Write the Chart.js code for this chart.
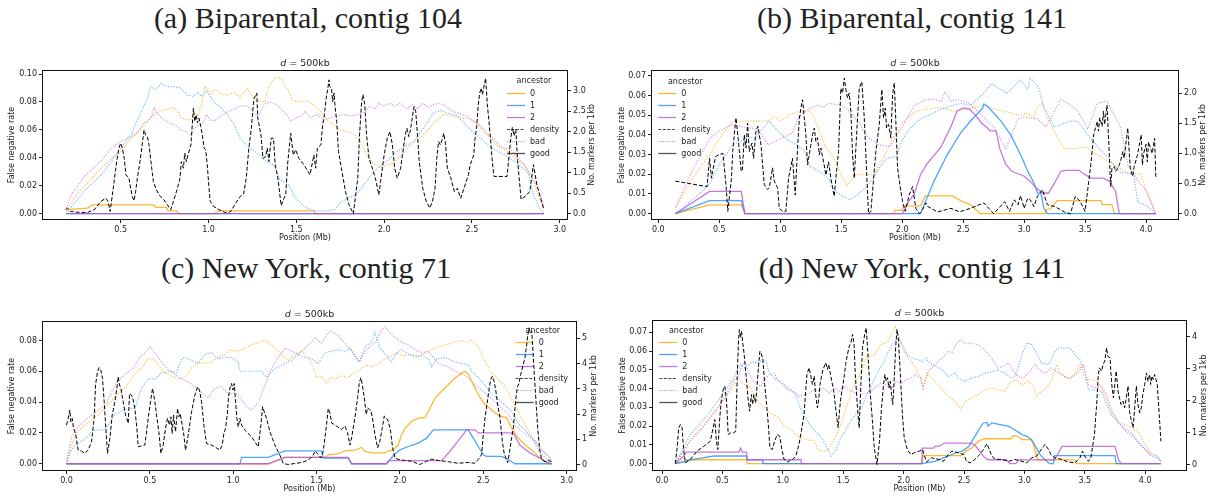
<!DOCTYPE html>
<html>
<head>
<meta charset="utf-8">
<script src="https://cdn.jsdelivr.net/npm/chart.js@4.4.1/dist/chart.umd.min.js"></script>
<style>
  body { margin: 0; width: 1211px; height: 500px; background: #fff; position: relative; overflow: hidden; }
  .cap { position: absolute; font-family: "Liberation Serif", serif; font-size: 30px; line-height: 30px;
         color: #222; white-space: nowrap; transform: translateX(-50%); }
  canvas { position: absolute; }
</style>
</head>
<body>
<div class="cap" style="left:308px;top:3px">(a) Biparental, contig 104</div>
<div class="cap" style="left:912px;top:3px">(b) Biparental, contig 141</div>
<div class="cap" style="left:306px;top:253px">(c) New York, contig 71</div>
<div class="cap" style="left:912px;top:253px">(d) New York, contig 141</div>
<canvas id="pa"></canvas>
<canvas id="pb"></canvas>
<canvas id="pc"></canvas>
<canvas id="pd"></canvas>
<script>
// ---- (a) Biparental, contig 104 ----
const A_X_TICKS = [0.5, 1.0, 1.5, 2.0, 2.5, 3.0];
const A_Y_TICKS = [0, 0.02, 0.04, 0.06, 0.08, 0.10];
const A_D_TICKS = [0, 0.5, 1.0, 1.5, 2.0, 2.5, 3.0];
const A_BAD_0 = [[0.19,0.002],[0.25,0.014],[0.31,0.022],[0.39,0.033],[0.46,0.041],[0.5,0.044],[0.56,0.054],[0.6,0.058],[0.63,0.063],[0.66,0.067],[0.69,0.071],[0.73,0.074],[0.77,0.075],[0.8,0.076],[0.83,0.073],[0.84,0.069],[0.88,0.067],[0.91,0.068],[0.92,0.072],[0.94,0.070],[0.96,0.078],[0.98,0.091],[1.01,0.086],[1.04,0.089],[1.07,0.086],[1.11,0.085],[1.15,0.087],[1.18,0.083],[1.22,0.090],[1.25,0.084],[1.28,0.081],[1.32,0.080],[1.34,0.090],[1.37,0.096],[1.39,0.098],[1.42,0.096],[1.44,0.091],[1.46,0.087],[1.48,0.081],[1.51,0.080],[1.56,0.081],[1.6,0.078],[1.64,0.073],[1.68,0.067],[1.72,0.063],[1.75,0.060],[1.79,0.059],[1.83,0.057],[1.87,0.051],[1.9,0.042],[1.94,0.036],[1.98,0.033],[2.02,0.035],[2.06,0.037],[2.09,0.041],[2.13,0.046],[2.17,0.051],[2.21,0.055],[2.25,0.060],[2.28,0.065],[2.32,0.069],[2.34,0.071],[2.38,0.070],[2.42,0.070],[2.46,0.068],[2.49,0.068],[2.53,0.065],[2.57,0.058],[2.61,0.054],[2.65,0.048],[2.7,0.045],[2.75,0.040],[2.8,0.034],[2.85,0.024],[2.88,0.012],[2.91,0.002]];
const A_BAD_1 = [[0.19,0.0],[0.29,0.016],[0.39,0.028],[0.49,0.045],[0.56,0.057],[0.61,0.071],[0.65,0.082],[0.67,0.091],[0.7,0.089],[0.73,0.093],[0.77,0.091],[0.8,0.091],[0.84,0.090],[0.88,0.085],[0.91,0.084],[0.94,0.087],[0.96,0.084],[0.99,0.088],[1.03,0.080],[1.07,0.076],[1.11,0.071],[1.15,0.063],[1.18,0.054],[1.22,0.048],[1.26,0.045],[1.3,0.041],[1.34,0.036],[1.37,0.035],[1.41,0.024],[1.43,0.023],[1.45,0.022],[1.47,0.018],[1.49,0.012],[1.53,0.007],[1.56,0.004],[1.61,0.002],[1.68,0.002],[1.72,0.003],[1.75,0.008],[1.79,0.011],[1.83,0.013],[1.87,0.018],[1.9,0.023],[1.94,0.030],[1.98,0.034],[2.02,0.038],[2.06,0.043],[2.09,0.046],[2.13,0.049],[2.17,0.052],[2.21,0.059],[2.25,0.066],[2.28,0.072],[2.32,0.074],[2.36,0.072],[2.4,0.071],[2.44,0.067],[2.47,0.063],[2.51,0.058],[2.55,0.054],[2.59,0.049],[2.63,0.046],[2.7,0.041],[2.76,0.036],[2.82,0.029],[2.85,0.014],[2.88,0.005],[2.91,0.0]];
const A_BAD_2 = [[0.19,0.004],[0.22,0.014],[0.29,0.026],[0.39,0.038],[0.44,0.046],[0.5,0.052],[0.56,0.055],[0.6,0.059],[0.63,0.065],[0.66,0.067],[0.68,0.071],[0.69,0.076],[0.72,0.070],[0.75,0.067],[0.79,0.064],[0.82,0.063],[0.84,0.060],[0.87,0.059],[0.9,0.056],[0.92,0.061],[0.94,0.063],[0.97,0.065],[0.99,0.071],[1.01,0.067],[1.04,0.067],[1.07,0.070],[1.11,0.073],[1.15,0.075],[1.18,0.077],[1.22,0.077],[1.25,0.074],[1.28,0.069],[1.32,0.079],[1.35,0.080],[1.39,0.078],[1.42,0.074],[1.45,0.070],[1.47,0.066],[1.5,0.069],[1.53,0.070],[1.55,0.073],[1.58,0.069],[1.62,0.071],[1.66,0.067],[1.7,0.069],[1.73,0.070],[1.77,0.071],[1.81,0.070],[1.85,0.071],[1.89,0.073],[1.92,0.077],[1.95,0.075],[1.97,0.079],[2.0,0.077],[2.03,0.079],[2.06,0.077],[2.09,0.079],[2.13,0.075],[2.16,0.078],[2.19,0.075],[2.22,0.079],[2.25,0.076],[2.28,0.078],[2.31,0.079],[2.34,0.078],[2.37,0.075],[2.4,0.073],[2.44,0.071],[2.47,0.070],[2.51,0.066],[2.55,0.063],[2.59,0.057],[2.63,0.053],[2.66,0.048],[2.72,0.046],[2.8,0.035],[2.87,0.020],[2.91,0.005]];
const A_GOOD_0 = [[0.19,0.002],[0.2,0.003],[0.31,0.004],[0.34,0.0064],[0.69,0.0064],[0.7,0.0045],[0.76,0.0045],[0.77,0.002],[0.82,0.002],[0.83,0.0],[1.03,0.0],[1.06,0.002],[1.6,0.002],[1.61,0.0],[2.91,0.0]];
const A_GOOD_1 = [[0.19,0],[2.91,0]];
const A_GOOD_2 = [[0.19,0],[2.91,0]];
const A_DENSITY = [[0.187,0.1],[0.196,0.14],[0.215,0.06],[0.25,0.04],[0.31,0.03],[0.35,0.1],[0.386,0.3],[0.415,0.38],[0.428,0.3],[0.44,0.06],[0.46,0.7],[0.477,1.27],[0.49,1.6],[0.5,1.72],[0.51,1.6],[0.52,1.35],[0.53,0.95],[0.547,0.87],[0.557,0.62],[0.566,0.42],[0.576,0.32],[0.585,0.54],[0.595,0.87],[0.61,1.27],[0.62,1.6],[0.633,2.04],[0.642,1.92],[0.652,1.88],[0.66,1.72],[0.67,1.35],[0.686,0.79],[0.7,0.62],[0.718,0.46],[0.747,0.34],[0.766,0.22],[0.785,0.1],[0.8,0.3],[0.823,0.62],[0.838,0.87],[0.845,1.27],[0.857,1.11],[0.865,1.48],[0.874,1.27],[0.883,1.43],[0.9,1.68],[0.908,2.19],[0.914,2.57],[0.922,2.25],[0.93,2.41],[0.937,2.21],[0.946,2.33],[0.956,2.12],[0.965,1.92],[0.975,1.6],[0.984,1.56],[0.993,1.19],[1.003,0.62],[1.01,0.3],[1.03,0.18],[1.06,0.1],[1.09,0.04],[1.11,0.02],[1.127,0.06],[1.155,0.26],[1.18,0.42],[1.2,0.48],[1.215,0.87],[1.23,1.6],[1.244,2.08],[1.255,2.65],[1.26,2.81],[1.275,2.94],[1.28,2.35],[1.29,2.12],[1.3,1.88],[1.31,1.35],[1.325,1.39],[1.335,1.6],[1.344,1.27],[1.357,1.84],[1.37,1.84],[1.38,1.19],[1.395,0.87],[1.414,0.2],[1.43,0.38],[1.44,0.46],[1.45,1.19],[1.468,1.96],[1.483,1.43],[1.496,1.56],[1.515,1.35],[1.544,1.19],[1.578,0.95],[1.6,1.43],[1.61,1.11],[1.62,1.6],[1.64,1.68],[1.65,2.17],[1.66,2.41],[1.67,2.81],[1.68,3.06],[1.686,3.26],[1.69,3.1],[1.7,3.06],[1.707,2.73],[1.715,2.94],[1.72,2.65],[1.73,2.25],[1.74,1.52],[1.76,1.03],[1.78,0.54],[1.8,0.22],[1.825,0.0],[1.85,0.87],[1.86,1.92],[1.872,2.73],[1.88,2.9],[1.89,2.65],[1.9,1.92],[1.914,1.35],[1.933,1.11],[1.95,0.87],[1.97,0.46],[1.98,0.79],[2.0,1.43],[2.018,1.84],[2.033,2.0],[2.047,1.68],[2.06,1.11],[2.075,0.87],[2.094,1.11],[2.11,1.6],[2.12,1.92],[2.13,2.08],[2.14,1.88],[2.15,2.04],[2.16,2.33],[2.17,2.61],[2.18,2.49],[2.19,1.92],[2.2,1.27],[2.22,0.62],[2.24,0.3],[2.26,0.14],[2.275,0.3],[2.29,0.62],[2.3,1.35],[2.31,1.76],[2.32,1.68],[2.33,1.8],[2.34,1.96],[2.35,1.68],[2.36,1.11],[2.38,0.87],[2.4,0.54],[2.417,0.62],[2.436,0.38],[2.455,0.62],[2.48,0.95],[2.49,1.19],[2.51,1.43],[2.518,1.84],[2.527,2.12],[2.536,2.65],[2.544,2.94],[2.553,3.06],[2.56,2.9],[2.57,3.14],[2.578,3.3],[2.588,2.65],[2.597,2.25],[2.607,1.76],[2.616,1.27],[2.626,0.91],[2.7,0.91],[2.72,1.8],[2.73,2.1],[2.74,1.9],[2.75,2.05],[2.76,1.3],[2.78,0.35],[2.81,0.45],[2.83,0.55],[2.85,1.2],[2.87,0.7],[2.89,0.4],[2.91,0.1]];

// ---- (b) Biparental, contig 141 ----
const B_X_TICKS = [0, 0.5, 1.0, 1.5, 2.0, 2.5, 3.0, 3.5, 4.0];
const B_Y_TICKS = [0, 0.01, 0.02, 0.03, 0.04, 0.05, 0.06, 0.07];
const B_D_TICKS = [0, 0.5, 1.0, 1.5, 2.0];
const B_BAD_0 = [[0.14,0.003],[0.28,0.018],[0.42,0.030],[0.5,0.038],[0.58,0.045],[0.62,0.047],[0.75,0.047],[0.9,0.047],[0.95,0.049],[1.0,0.047],[1.07,0.050],[1.16,0.052],[1.24,0.052],[1.27,0.050],[1.32,0.042],[1.37,0.034],[1.42,0.030],[1.47,0.025],[1.51,0.018],[1.55,0.014],[1.6,0.019],[1.65,0.020],[1.78,0.020],[1.81,0.025],[1.86,0.030],[1.92,0.038],[2.0,0.046],[2.11,0.052],[2.19,0.053],[2.32,0.054],[2.42,0.052],[2.51,0.053],[2.6,0.054],[2.67,0.055],[2.75,0.053],[2.84,0.052],[2.95,0.050],[3.03,0.051],[3.08,0.049],[3.11,0.054],[3.15,0.056],[3.19,0.049],[3.27,0.039],[3.33,0.033],[3.42,0.033],[3.5,0.034],[3.57,0.031],[3.68,0.027],[3.78,0.023],[3.85,0.021],[3.96,0.020],[4.01,0.010],[4.05,0.004],[4.08,0.0]];
const B_BAD_1 = [[0.14,0.0],[0.28,0.007],[0.42,0.015],[0.5,0.025],[0.61,0.035],[0.72,0.038],[0.8,0.039],[0.91,0.047],[0.98,0.042],[1.05,0.038],[1.13,0.035],[1.2,0.032],[1.24,0.024],[1.32,0.0215],[1.39,0.018],[1.46,0.011],[1.51,0.009],[1.57,0.007],[1.62,0.009],[1.7,0.013],[1.76,0.018],[1.81,0.023],[1.87,0.028],[1.95,0.029],[2.0,0.0375],[2.06,0.043],[2.11,0.046],[2.15,0.048],[2.32,0.053],[2.48,0.056],[2.56,0.055],[2.67,0.061],[2.73,0.066],[2.86,0.061],[2.97,0.068],[3.03,0.063],[3.05,0.069],[3.12,0.064],[3.16,0.054],[3.25,0.044],[3.38,0.047],[3.44,0.047],[3.52,0.040],[3.63,0.032],[3.71,0.027],[3.79,0.021],[3.9,0.020],[3.93,0.006],[4.01,0.004],[4.08,0.0]];
const B_BAD_2 = [[0.14,0.003],[0.28,0.022],[0.42,0.038],[0.5,0.042],[0.6,0.045],[0.7,0.044],[0.8,0.043],[0.85,0.040],[0.9,0.035],[1.0,0.038],[1.1,0.041],[1.15,0.049],[1.2,0.052],[1.3,0.055],[1.35,0.054],[1.4,0.056],[1.5,0.055],[1.55,0.053],[1.65,0.046],[1.7,0.040],[1.8,0.035],[1.9,0.034],[2.0,0.044],[2.1,0.055],[2.2,0.058],[2.26,0.058],[2.32,0.057],[2.35,0.062],[2.4,0.057],[2.45,0.058],[2.55,0.056],[2.65,0.050],[2.75,0.044],[2.85,0.033],[2.95,0.048],[3.0,0.049],[3.11,0.048],[3.18,0.044],[3.3,0.058],[3.36,0.056],[3.44,0.052],[3.52,0.043],[3.6,0.056],[3.68,0.057],[3.79,0.044],[3.85,0.025],[3.93,0.017],[4.01,0.011],[4.08,0.0]];
const B_GOOD_0 = [[0.14,0],[0.42,0.0045],[0.68,0.0045],[0.71,0],[1.93,0],[1.94,0.0017],[2.0,0.0017],[2.01,0.004],[2.15,0.004],[2.19,0.009],[2.41,0.009],[2.5,0.006],[2.56,0.0046],[2.64,0],[3.17,0],[3.18,0.002],[3.22,0.0025],[3.27,0.0066],[3.63,0.0066],[3.64,0.0046],[3.72,0.0046],[3.74,0],[4.08,0]];
const B_GOOD_1 = [[0.14,0],[0.42,0.0066],[0.68,0.0066],[0.71,0],[2.15,0],[2.26,0.0164],[2.37,0.030],[2.48,0.041],[2.56,0.047],[2.66,0.0536],[2.67,0.0556],[2.7,0.0545],[2.81,0.047],[2.89,0.040],[2.97,0.030],[3.03,0.0215],[3.08,0.0156],[3.11,0.0105],[3.14,0.010],[3.16,0.003],[3.19,0],[4.08,0]];
const B_GOOD_2 = [[0.14,0],[0.42,0.0113],[0.68,0.0113],[0.71,0],[2.0,0],[2.05,0.006],[2.1,0.010],[2.15,0.0198],[2.2,0.025],[2.32,0.034],[2.4,0.0443],[2.45,0.052],[2.5,0.0536],[2.55,0.053],[2.6,0.050],[2.65,0.046],[2.7,0.0435],[2.72,0.042],[2.77,0.042],[2.8,0.033],[2.85,0.025],[2.9,0.0215],[3.0,0.019],[3.05,0.0164],[3.1,0.013],[3.15,0.0105],[3.2,0.0105],[3.25,0.0156],[3.3,0.0215],[3.35,0.022],[3.45,0.022],[3.5,0.0198],[3.55,0.018],[3.65,0.018],[3.7,0.0164],[3.75,0.0113],[3.78,0],[4.08,0]];
const B_DENSITY = [[0.14,0.54],[0.40,0.45],[0.42,0.92],[0.436,0.59],[0.445,0.7],[0.47,0.95],[0.5,0.98],[0.53,1.0],[0.555,0.48],[0.57,0.04],[0.6,0.59],[0.61,1.03],[0.623,1.31],[0.637,1.59],[0.66,1.14],[0.68,0.7],[0.69,0.73],[0.705,1.31],[0.719,1.09],[0.732,1.5],[0.746,1.03],[0.768,1.17],[0.781,0.92],[0.8,1.36],[0.817,1.45],[0.828,1.31],[0.842,1.14],[0.869,0.48],[0.896,0.4],[0.91,0.43],[0.937,0.76],[0.951,0.54],[0.978,0.43],[0.992,0.09],[1.02,0.04],[1.046,0.04],[1.068,0.59],[1.087,0.78],[1.1,0.92],[1.123,0.31],[1.142,1.09],[1.156,1.56],[1.169,1.75],[1.183,1.89],[1.197,1.59],[1.21,1.31],[1.224,0.81],[1.238,0.98],[1.265,1.31],[1.279,1.42],[1.292,1.2],[1.306,1.26],[1.32,0.98],[1.333,1.09],[1.36,0.81],[1.374,0.64],[1.396,0.86],[1.415,0.59],[1.429,0.43],[1.443,0.29],[1.456,0.59],[1.478,1.03],[1.497,2.08],[1.511,2.0],[1.525,2.25],[1.538,2.06],[1.552,1.92],[1.566,2.0],[1.579,1.7],[1.593,0.98],[1.607,0.59],[1.626,1.31],[1.648,2.08],[1.669,2.19],[1.689,1.59],[1.708,0.7],[1.724,0.0],[1.743,0.04],[1.784,1.03],[1.812,1.48],[1.833,2.06],[1.847,1.59],[1.861,1.75],[1.872,1.42],[1.888,1.48],[1.907,1.26],[1.921,1.97],[1.935,2.17],[1.948,1.53],[1.962,0.76],[1.981,0.48],[2.003,0.2],[2.025,0.04],[2.057,0.31],[2.085,0.45],[2.112,0.09],[2.14,0.0],[2.167,0.07],[2.194,0.18],[2.21,0.12],[2.29,0.03],[2.4,0.09],[2.47,0.03],[2.56,0.09],[2.67,0.18],[2.75,0.0],[2.84,0.2],[2.88,0.04],[2.92,0.23],[2.95,0.15],[2.97,0.3],[3.0,0.09],[3.03,0.26],[3.05,0.23],[3.08,0.12],[3.11,0.29],[3.15,0.4],[3.19,0.15],[3.25,0.12],[3.33,0.03],[3.38,0.0],[3.42,0.29],[3.46,0.2],[3.5,0.04],[3.55,0.87],[3.57,1.31],[3.6,1.53],[3.61,1.37],[3.62,1.59],[3.64,1.45],[3.65,1.7],[3.66,1.48],[3.68,1.8],[3.69,1.36],[3.71,0.45],[3.72,0.76],[3.74,0.78],[3.75,0.7],[3.77,0.76],[3.78,0.81],[3.79,0.87],[3.81,1.03],[3.82,0.92],[3.83,1.09],[3.85,1.42],[3.87,0.76],[3.89,0.62],[3.9,0.76],[3.93,0.98],[3.96,1.31],[3.97,0.81],[3.98,1.0],[4.0,1.15],[4.01,0.86],[4.02,1.19],[4.05,1.0],[4.07,1.25],[4.08,0.59]];

// ---- (c) New York, contig 71 ----
const C_X_TICKS = [0, 0.5, 1.0, 1.5, 2.0, 2.5, 3.0];
const C_Y_TICKS = [0, 0.02, 0.04, 0.06, 0.08];
const C_D_TICKS = [0, 1, 2, 3, 4, 5];
const C_BAD_0 = [[0,0],[0.03,0.012],[0.06,0.020],[0.11,0.025],[0.17,0.030],[0.23,0.036],[0.29,0.043],[0.35,0.049],[0.41,0.058],[0.45,0.062],[0.49,0.068],[0.52,0.068],[0.55,0.064],[0.59,0.059],[0.63,0.057],[0.67,0.055],[0.71,0.056],[0.75,0.062],[0.79,0.066],[0.83,0.065],[0.87,0.066],[0.91,0.069],[0.95,0.071],[0.98,0.074],[1.01,0.073],[1.05,0.074],[1.09,0.076],[1.13,0.078],[1.18,0.080],[1.21,0.079],[1.25,0.075],[1.29,0.071],[1.33,0.067],[1.37,0.071],[1.41,0.073],[1.45,0.069],[1.48,0.063],[1.5,0.056],[1.53,0.057],[1.56,0.052],[1.58,0.056],[1.61,0.055],[1.65,0.057],[1.69,0.056],[1.73,0.059],[1.77,0.062],[1.8,0.064],[1.83,0.063],[1.87,0.065],[1.91,0.068],[1.95,0.070],[1.98,0.072],[2.02,0.070],[2.06,0.071],[2.1,0.069],[2.14,0.071],[2.19,0.074],[2.23,0.076],[2.27,0.077],[2.33,0.079],[2.37,0.080],[2.4,0.079],[2.43,0.080],[2.47,0.076],[2.51,0.066],[2.55,0.059],[2.59,0.055],[2.63,0.050],[2.67,0.042],[2.71,0.034],[2.75,0.025],[2.79,0.018],[2.83,0.011],[2.87,0.007],[2.91,0.003]];
const C_BAD_1 = [[0,0],[0.02,0.007],[0.05,0.012],[0.11,0.016],[0.16,0.022],[0.23,0.022],[0.29,0.032],[0.35,0.035],[0.41,0.036],[0.45,0.049],[0.49,0.055],[0.53,0.055],[0.57,0.059],[0.62,0.060],[0.66,0.059],[0.69,0.068],[0.71,0.069],[0.75,0.067],[0.79,0.065],[0.83,0.071],[0.87,0.072],[0.91,0.068],[0.95,0.069],[0.99,0.069],[1.03,0.066],[1.04,0.060],[1.11,0.060],[1.17,0.060],[1.2,0.056],[1.23,0.060],[1.27,0.063],[1.31,0.065],[1.35,0.067],[1.39,0.071],[1.43,0.069],[1.47,0.068],[1.51,0.065],[1.55,0.072],[1.59,0.073],[1.63,0.074],[1.67,0.073],[1.7,0.075],[1.74,0.069],[1.76,0.066],[1.79,0.076],[1.83,0.079],[1.85,0.085],[1.88,0.075],[1.92,0.070],[1.95,0.066],[1.98,0.072],[2.01,0.074],[2.05,0.071],[2.09,0.070],[2.13,0.070],[2.17,0.068],[2.19,0.063],[2.22,0.068],[2.27,0.069],[2.33,0.066],[2.37,0.065],[2.41,0.064],[2.43,0.060],[2.47,0.056],[2.51,0.051],[2.55,0.045],[2.59,0.042],[2.63,0.038],[2.67,0.034],[2.71,0.026],[2.75,0.022],[2.79,0.017],[2.83,0.009],[2.87,0.004],[2.91,0.0015]];
const C_BAD_2 = [[0,0.0015],[0.03,0.017],[0.06,0.023],[0.12,0.029],[0.18,0.034],[0.24,0.039],[0.3,0.053],[0.35,0.058],[0.4,0.062],[0.44,0.069],[0.48,0.073],[0.5,0.076],[0.53,0.072],[0.57,0.066],[0.61,0.061],[0.65,0.058],[0.69,0.055],[0.73,0.053],[0.77,0.050],[0.81,0.046],[0.85,0.043],[0.89,0.049],[0.93,0.050],[0.97,0.045],[1.01,0.046],[1.04,0.043],[1.08,0.037],[1.11,0.035],[1.15,0.040],[1.19,0.051],[1.23,0.062],[1.27,0.069],[1.31,0.075],[1.35,0.073],[1.39,0.071],[1.43,0.075],[1.47,0.079],[1.49,0.082],[1.53,0.078],[1.56,0.084],[1.59,0.086],[1.63,0.083],[1.67,0.078],[1.71,0.073],[1.75,0.066],[1.78,0.071],[1.81,0.075],[1.83,0.077],[1.86,0.080],[1.89,0.087],[1.91,0.089],[1.94,0.085],[1.97,0.082],[2.01,0.079],[2.05,0.077],[2.09,0.074],[2.13,0.072],[2.17,0.073],[2.2,0.069],[2.23,0.065],[2.29,0.063],[2.33,0.060],[2.37,0.058],[2.41,0.056],[2.45,0.051],[2.49,0.048],[2.53,0.044],[2.57,0.040],[2.61,0.036],[2.65,0.032],[2.69,0.025],[2.73,0.021],[2.77,0.018],[2.81,0.015],[2.85,0.009],[2.89,0.005],[2.91,0.0015]];
const C_GOOD_0 = [[0,0],[1.21,0],[1.31,0.0041],[1.55,0.0041],[1.57,0.0058],[1.63,0.0065],[1.67,0.0084],[1.73,0.0088],[1.77,0.0106],[1.79,0.008],[1.83,0.007],[1.91,0.007],[1.93,0.0084],[1.96,0.0089],[1.99,0.0123],[2.01,0.0188],[2.03,0.023],[2.07,0.0275],[2.11,0.0296],[2.15,0.030],[2.18,0.036],[2.21,0.0426],[2.25,0.047],[2.29,0.0512],[2.33,0.0556],[2.37,0.0588],[2.39,0.060],[2.41,0.058],[2.44,0.0512],[2.47,0.0448],[2.51,0.0383],[2.54,0.036],[2.57,0.033],[2.61,0.0307],[2.64,0.030],[2.67,0.023],[2.71,0.0166],[2.75,0.0123],[2.79,0.009],[2.83,0.0048],[2.87,0.0015],[2.91,0]];
const C_GOOD_1 = [[0,0],[1.04,0],[1.05,0.0041],[1.21,0.0041],[1.31,0.0084],[1.53,0.0084],[1.54,0.0037],[1.69,0.0037],[1.71,0],[1.92,0],[1.97,0.0065],[2.0,0.009],[2.05,0.0112],[2.11,0.0134],[2.16,0.0166],[2.2,0.022],[2.41,0.022],[2.44,0.0166],[2.47,0.0112],[2.5,0.0058],[2.52,0.0048],[2.61,0.0048],[2.65,0.0026],[2.69,0],[2.91,0]];
const C_GOOD_2 = [[0,0],[1.21,0],[1.31,0.0041],[1.69,0.0041],[1.71,0],[1.92,0],[1.93,0.002],[2.25,0.002],[2.3,0.008],[2.35,0.015],[2.4,0.022],[2.45,0.022],[2.47,0.020],[2.68,0.020],[2.72,0.012],[2.78,0.007],[2.85,0.003],[2.9,0],[2.91,0]];
const C_DENSITY = [[0,1.56],[0.01,1.83],[0.02,2.16],[0.026,1.69],[0.034,1.83],[0.042,1.43],[0.054,1.23],[0.07,0.57],[0.09,0.53],[0.11,0.44],[0.13,0.57],[0.15,0.9],[0.166,1.83],[0.174,3.15],[0.186,3.68],[0.196,3.84],[0.206,3.74],[0.216,3.41],[0.226,2.49],[0.236,1.43],[0.246,0.44],[0.26,1.03],[0.274,1.96],[0.29,2.49],[0.302,3.02],[0.31,3.48],[0.318,3.15],[0.326,3.02],[0.34,2.49],[0.354,1.96],[0.362,1.83],[0.37,1.63],[0.378,2.82],[0.39,2.75],[0.398,2.62],[0.41,2.22],[0.422,1.43],[0.43,0.7],[0.45,0.74],[0.47,0.77],[0.49,1.83],[0.504,2.49],[0.516,3.02],[0.53,2.49],[0.54,1.96],[0.554,1.3],[0.566,0.44],[0.58,0.77],[0.594,1.43],[0.606,1.83],[0.618,1.56],[0.626,1.89],[0.634,1.23],[0.642,1.96],[0.654,1.3],[0.666,2.22],[0.674,1.89],[0.682,2.02],[0.694,1.56],[0.704,1.16],[0.714,0.57],[0.73,1.16],[0.75,2.09],[0.77,2.75],[0.786,3.08],[0.798,2.95],[0.81,2.49],[0.824,1.56],[0.84,0.83],[0.87,0.77],[0.89,0.7],[0.92,0.57],[0.934,0.77],[0.944,1.23],[0.954,1.43],[0.964,1.96],[0.972,2.69],[0.982,3.08],[0.99,3.21],[0.998,2.95],[1.006,3.21],[1.014,2.49],[1.022,1.83],[1.03,1.49],[1.04,1.83],[1.05,1.56],[1.07,1.36],[1.11,1.1],[1.15,0.7],[1.166,1.56],[1.176,2.29],[1.186,2.09],[1.2,1.83],[1.22,1.3],[1.25,0.77],[1.28,0.37],[1.3,0.04],[1.33,0],[1.37,0.04],[1.41,0.08],[1.45,0.17],[1.48,0.37],[1.49,0.53],[1.51,0.4],[1.526,0.26],[1.54,0.53],[1.55,1.06],[1.56,1.59],[1.57,2.22],[1.58,2.05],[1.59,1.65],[1.62,1.52],[1.65,1.39],[1.67,1.52],[1.686,1.26],[1.7,0.77],[1.71,1.06],[1.73,1.85],[1.746,2.65],[1.756,3.24],[1.766,3.44],[1.774,3.17],[1.786,2.65],[1.798,1.98],[1.806,2.25],[1.816,2.18],[1.826,2.14],[1.838,1.72],[1.85,1.19],[1.866,0.66],[1.88,0.93],[1.894,1.46],[1.906,1.92],[1.918,1.85],[1.93,1.72],[1.944,1.32],[1.956,0.66],[1.97,0.26],[1.99,0.2],[2.03,0.16],[2.07,0.13],[2.12,0.0],[2.16,0.13],[2.19,0.21],[2.23,0.16],[2.29,0.11],[2.35,0.05],[2.41,0.08],[2.45,0.05],[2.47,0.2],[2.49,0.4],[2.5,1.19],[2.51,1.85],[2.526,2.58],[2.536,3.04],[2.544,3.37],[2.554,3.5],[2.564,3.31],[2.574,2.98],[2.586,2.38],[2.6,1.85],[2.614,0.93],[2.626,0.4],[2.636,0.26],[2.646,0.07],[2.658,0.53],[2.67,1.06],[2.68,1.46],[2.69,2.25],[2.698,2.78],[2.706,3.1],[2.714,3.21],[2.722,3.51],[2.73,3.7],[2.74,3.97],[2.75,4.23],[2.758,4.63],[2.766,5.09],[2.774,5.42],[2.782,5.22],[2.79,5.29],[2.798,4.5],[2.806,3.57],[2.816,2.51],[2.826,1.46],[2.838,0.6],[2.85,0.2],[2.87,0.11],[2.89,0.16],[2.91,0.11]];

// ---- (d) New York, contig 141 ----
const D_X_TICKS = [0, 0.5, 1.0, 1.5, 2.0, 2.5, 3.0, 3.5, 4.0];
const D_Y_TICKS = [0, 0.01, 0.02, 0.03, 0.04, 0.05, 0.06, 0.07];
const D_D_TICKS = [0, 1, 2, 3, 4];
const D_BAD_0 = [[0.11,0],[0.18,0.0066],[0.235,0.0128],[0.32,0.019],[0.4,0.025],[0.46,0.0297],[0.51,0.034],[0.57,0.0394],[0.61,0.043],[0.65,0.044],[0.69,0.042],[0.73,0.041],[0.76,0.0368],[0.8,0.0323],[0.84,0.0305],[0.885,0.027],[0.93,0.026],[0.97,0.0243],[1.01,0.020],[1.05,0.019],[1.09,0.0163],[1.15,0.0137],[1.2,0.0128],[1.26,0.0122],[1.29,0.0075],[1.34,0.0066],[1.38,0.0075],[1.42,0.012],[1.47,0.019],[1.51,0.027],[1.55,0.035],[1.59,0.042],[1.65,0.049],[1.7,0.058],[1.76,0.058],[1.81,0.0634],[1.87,0.065],[1.91,0.0705],[1.93,0.073],[1.95,0.070],[1.98,0.0634],[2.02,0.058],[2.06,0.0545],[2.1,0.051],[2.14,0.046],[2.16,0.041],[2.2,0.048],[2.26,0.0439],[2.32,0.0394],[2.37,0.036],[2.43,0.0332],[2.47,0.0288],[2.51,0.0332],[2.56,0.035],[2.62,0.0368],[2.67,0.0394],[2.73,0.0403],[2.78,0.0394],[2.84,0.0385],[2.88,0.043],[2.93,0.0448],[2.98,0.0421],[3.03,0.0439],[3.07,0.0421],[3.1,0.0359],[3.14,0.0385],[3.18,0.0403],[3.22,0.0439],[3.27,0.0528],[3.29,0.049],[3.33,0.0465],[3.38,0.0448],[3.42,0.0483],[3.46,0.0528],[3.5,0.0448],[3.55,0.0448],[3.61,0.0439],[3.65,0.0385],[3.69,0.0323],[3.73,0.026],[3.78,0.0225],[3.83,0.0208],[3.89,0.019],[3.94,0.0172],[4.0,0.0101],[4.05,0.0057],[4.1,0.004],[4.13,0.0012]];
const D_BAD_1 = [[0.11,0],[0.166,0.0075],[0.235,0.0155],[0.32,0.0217],[0.4,0.0279],[0.48,0.035],[0.54,0.0403],[0.6,0.0465],[0.62,0.050],[0.65,0.0528],[0.68,0.051],[0.705,0.052],[0.75,0.0545],[0.79,0.0536],[0.83,0.0554],[0.86,0.0545],[0.885,0.049],[0.93,0.0456],[0.97,0.0439],[1.01,0.0421],[1.065,0.0394],[1.107,0.0368],[1.15,0.0288],[1.19,0.0243],[1.23,0.020],[1.27,0.0172],[1.31,0.0146],[1.355,0.0101],[1.4,0.004],[1.44,0.0075],[1.48,0.0137],[1.52,0.018],[1.56,0.0225],[1.6,0.026],[1.65,0.0297],[1.69,0.0359],[1.73,0.0412],[1.78,0.0483],[1.84,0.0545],[1.88,0.0607],[1.92,0.065],[1.96,0.067],[1.99,0.0634],[2.03,0.058],[2.07,0.0563],[2.12,0.0554],[2.16,0.0545],[2.19,0.0563],[2.2,0.0545],[2.26,0.0519],[2.32,0.050],[2.37,0.0465],[2.4,0.0474],[2.43,0.0483],[2.45,0.0456],[2.51,0.0439],[2.56,0.0456],[2.62,0.0465],[2.67,0.0483],[2.73,0.049],[2.78,0.050],[2.84,0.0483],[2.89,0.0456],[2.93,0.0474],[2.98,0.058],[3.02,0.0643],[3.06,0.0634],[3.1,0.059],[3.14,0.0536],[3.2,0.0528],[3.24,0.058],[3.27,0.0616],[3.32,0.0616],[3.38,0.0616],[3.42,0.058],[3.46,0.0554],[3.5,0.0492],[3.53,0.0394],[3.58,0.0394],[3.64,0.0385],[3.68,0.0314],[3.72,0.026],[3.78,0.0217],[3.83,0.018],[3.89,0.0146],[3.94,0.012],[4.0,0.0075],[4.05,0.004],[4.1,0.003],[4.13,0.0012]];
const D_BAD_2 = [[0.11,0],[0.166,0.0057],[0.235,0.012],[0.32,0.018],[0.4,0.0243],[0.47,0.0305],[0.54,0.0377],[0.6,0.0448],[0.64,0.047],[0.66,0.0528],[0.69,0.0536],[0.72,0.048],[0.76,0.0439],[0.82,0.0412],[0.86,0.0456],[0.885,0.0474],[0.93,0.0483],[0.95,0.0456],[1.0,0.0421],[1.04,0.0394],[1.08,0.0385],[1.11,0.0377],[1.13,0.0359],[1.18,0.0368],[1.22,0.0377],[1.26,0.0394],[1.3,0.0385],[1.34,0.0403],[1.38,0.0377],[1.43,0.0403],[1.47,0.0385],[1.51,0.0412],[1.55,0.0394],[1.59,0.0377],[1.63,0.0394],[1.67,0.0368],[1.72,0.0385],[1.76,0.0403],[1.81,0.043],[1.85,0.0421],[1.9,0.0403],[1.94,0.0439],[1.98,0.043],[2.02,0.0448],[2.06,0.0456],[2.1,0.0474],[2.14,0.0456],[2.16,0.040],[2.2,0.049],[2.26,0.0528],[2.32,0.0563],[2.37,0.060],[2.4,0.0591],[2.44,0.0643],[2.47,0.066],[2.51,0.0643],[2.56,0.0643],[2.62,0.0634],[2.67,0.0607],[2.73,0.0563],[2.78,0.051],[2.82,0.0519],[2.87,0.0536],[2.91,0.0492],[2.95,0.0465],[2.99,0.0456],[3.03,0.0483],[3.09,0.0528],[3.14,0.049],[3.18,0.0483],[3.22,0.051],[3.27,0.049],[3.31,0.0474],[3.36,0.0456],[3.4,0.0465],[3.44,0.0483],[3.49,0.0528],[3.53,0.0421],[3.58,0.0403],[3.64,0.0412],[3.68,0.0368],[3.72,0.0288],[3.78,0.0217],[3.83,0.019],[3.89,0.0163],[3.94,0.011],[4.0,0.0075],[4.05,0.0048],[4.1,0.004],[4.13,0.0012]];
const D_GOOD_0 = [[0.11,0],[0.18,0.001],[0.207,0.0021],[0.70,0.0021],[0.705,0],[2.15,0],[2.16,0.0043],[2.48,0.0043],[2.51,0.0066],[2.56,0.0083],[2.62,0.012],[2.67,0.0133],[2.89,0.0133],[2.91,0.015],[2.95,0.0145],[2.98,0.0128],[3.05,0.0128],[3.07,0.011],[3.09,0.0066],[3.11,0.002],[3.42,0.002],[3.43,0],[4.13,0]];
const D_GOOD_1 = [[0.11,0],[0.18,0.001],[0.235,0.002],[0.32,0.003],[0.43,0.0041],[0.70,0.0041],[0.705,0.0021],[0.83,0.0021],[0.835,0],[2.15,0],[2.26,0.0012],[2.34,0.0034],[2.43,0.0057],[2.48,0.0066],[2.54,0.0092],[2.59,0.0146],[2.63,0.019],[2.66,0.0217],[2.69,0.022],[2.7,0.020],[2.73,0.0217],[2.78,0.0211],[2.87,0.0199],[2.92,0.0181],[2.98,0.0155],[3.02,0.0146],[3.06,0.0128],[3.1,0.0083],[3.13,0.0048],[3.17,0.0021],[3.21,0],[3.24,0],[3.25,0.0043],[3.75,0.0043],[3.76,0],[4.13,0]];
const D_GOOD_2 = [[0.11,0],[0.18,0.004],[0.2,0.0062],[0.636,0.0062],[0.65,0.0083],[0.665,0.0062],[0.70,0.0062],[0.705,0.0021],[1.15,0.0021],[1.155,0],[2.15,0],[2.155,0.0083],[2.25,0.0083],[2.26,0.0092],[2.29,0.0092],[2.34,0.011],[2.56,0.011],[2.59,0.010],[2.62,0.0075],[2.66,0.004],[2.7,0.0021],[2.85,0.0021],[2.88,0],[2.93,0],[2.95,0.002],[3.25,0.002],[3.31,0.0092],[3.75,0.0092],[3.78,0.002],[3.8,0],[4.13,0]];
const D_DENSITY = [[0.11,0.03],[0.125,0.52],[0.138,1.15],[0.152,1.25],[0.166,1.15],[0.18,0.42],[0.194,0.05],[0.235,0.16],[0.29,0.42],[0.346,0.57],[0.4,0.73],[0.423,1.15],[0.437,1.41],[0.45,0.73],[0.462,0.47],[0.478,1.46],[0.49,1.99],[0.506,2.35],[0.52,2.46],[0.534,1.99],[0.548,0.94],[0.567,0.99],[0.59,0.99],[0.61,1.04],[0.617,1.99],[0.625,3.03],[0.633,3.87],[0.64,4.23],[0.65,3.97],[0.658,4.18],[0.67,3.76],[0.68,3.45],[0.69,3.03],[0.7,2.61],[0.714,1.99],[0.725,1.67],[0.74,2.19],[0.75,1.88],[0.76,2.19],[0.775,1.93],[0.788,2.51],[0.8,3.13],[0.81,3.55],[0.82,3.5],[0.835,3.29],[0.85,2.51],[0.866,1.88],[0.88,1.25],[0.893,0.52],[0.913,0.47],[0.932,0.73],[0.954,0.94],[0.974,0.89],[0.99,0.52],[1.01,0.16],[1.037,0.08],[1.08,0.16],[1.107,0.26],[1.134,0.63],[1.153,1.04],[1.176,1.57],[1.19,2.35],[1.2,2.82],[1.217,3.03],[1.23,2.82],[1.245,2.51],[1.26,2.77],[1.27,2.25],[1.286,1.78],[1.297,2.04],[1.308,2.51],[1.32,2.77],[1.333,2.98],[1.344,3.08],[1.355,3.19],[1.37,2.98],[1.38,3.13],[1.39,2.93],[1.405,2.61],[1.42,2.35],[1.433,1.93],[1.447,1.46],[1.458,1.15],[1.47,1.72],[1.48,2.09],[1.494,2.4],[1.51,2.82],[1.52,3.13],[1.535,3.45],[1.55,3.71],[1.563,3.81],[1.577,4.08],[1.59,3.76],[1.6,2.82],[1.618,1.78],[1.632,1.15],[1.646,2.51],[1.66,3.66],[1.68,4.13],[1.69,4.28],[1.707,3.34],[1.72,2.4],[1.74,1.46],[1.757,0.52],[1.78,0.0],[1.8,0.73],[1.817,1.78],[1.834,2.51],[1.845,2.82],[1.856,2.61],[1.867,2.72],[1.878,2.4],[1.89,2.61],[1.9,2.19],[1.91,1.88],[1.92,2.51],[1.934,3.66],[1.945,4.23],[1.956,3.97],[1.967,3.24],[1.98,2.3],[1.99,1.57],[2.005,0.84],[2.03,0.47],[2.06,0.31],[2.09,0.37],[2.13,0.42],[2.157,0.47],[2.17,0.3],[2.19,0.08],[2.23,0.21],[2.29,0.16],[2.33,0.1],[2.37,0.31],[2.4,0.42],[2.45,0.37],[2.5,0.31],[2.52,0.1],[2.55,0.05],[2.59,0.16],[2.63,0.31],[2.66,0.47],[2.69,0.65],[2.7,0.57],[2.73,0.26],[2.76,0.16],[2.81,0.16],[2.87,0.1],[2.92,0.16],[2.98,0.1],[3.02,0.05],[3.06,0.21],[3.1,0.26],[3.13,0.42],[3.16,0.57],[3.17,0.63],[3.2,0.47],[3.22,0.31],[3.25,0.21],[3.31,0.16],[3.36,0.08],[3.42,0.05],[3.46,0.21],[3.48,0.42],[3.5,0.26],[3.53,0.1],[3.55,0.21],[3.58,0.94],[3.6,1.99],[3.61,2.72],[3.62,3.03],[3.64,2.93],[3.65,3.13],[3.665,3.24],[3.68,3.66],[3.69,3.39],[3.71,3.34],[3.715,2.93],[3.726,2.4],[3.737,2.09],[3.748,2.51],[3.76,2.93],[3.775,2.3],[3.79,2.04],[3.8,1.88],[3.816,1.99],[3.83,1.78],[3.844,2.09],[3.858,2.46],[3.87,1.67],[3.886,1.36],[3.9,1.15],[3.913,1.78],[3.927,2.46],[3.94,1.88],[3.955,1.62],[3.968,1.78],[3.98,2.19],[3.996,2.51],[4.01,2.87],[4.023,2.61],[4.037,2.82],[4.045,2.51],[4.056,2.77],[4.067,2.66],[4.078,2.82],[4.09,2.66],[4.1,2.51],[4.116,1.57],[4.13,0.73]];

// ---- shared styling ----
const ANCESTORS = ['0', '1', '2'];
const GOOD_COLORS = ['rgba(255,165,0,0.8)', 'rgba(30,144,255,0.8)', 'rgba(186,85,211,0.8)'];
const BAD_COLORS = ['rgba(255,165,0,0.7)', 'rgba(30,144,255,0.62)', 'rgba(186,85,211,0.62)'];
const FONT = '"DejaVu Sans", sans-serif';
const PAD_TOP = 16;
const X_AXIS_H = 23;

// legend rows: three ancestors plus the three line-style keys
const LEGEND_ROWS = [
  { label: '0', color: GOOD_COLORS[0], dash: [], width: 1.3 },
  { label: '1', color: GOOD_COLORS[1], dash: [], width: 1.3 },
  { label: '2', color: GOOD_COLORS[2], dash: [], width: 1.3 },
  { label: 'density', color: '#444', dash: [3, 1.5], width: 1.2 },
  { label: 'bad', color: '#999', dash: [1, 1.3], width: 1.2 },
  { label: 'good', color: '#555', dash: [], width: 1.3 }
];

const framePlugin = {
  id: 'frame',
  beforeDatasetsDraw(chart, args, o) {
    const ctx = chart.ctx, a = chart.chartArea;
    const x = a.left + o.legendX, y = a.top + o.legendY;
    ctx.save();
    ctx.font = '8px ' + FONT;
    ctx.fillStyle = '#262626';
    ctx.textBaseline = 'middle';
    ctx.textAlign = 'center';
    ctx.fillText('ancestor', x + 27, y - 11.5);
    ctx.textAlign = 'left';
    LEGEND_ROWS.forEach((r, i) => {
      const yy = Math.round(y + i * 12) + 0.5;
      ctx.strokeStyle = r.color;
      ctx.lineWidth = r.width;
      ctx.setLineDash(r.dash);
      ctx.beginPath();
      ctx.moveTo(x, yy);
      ctx.lineTo(x + 18, yy);
      ctx.stroke();
      ctx.fillText(r.label, x + 23, yy);
    });
    ctx.restore();
  },
  afterDraw(chart, args, o) {
    const ctx = chart.ctx, a = chart.chartArea;
    ctx.save();
    ctx.strokeStyle = '#111';
    ctx.lineWidth = 1;
    ctx.strokeRect(a.left + 0.5, a.top + 0.5, a.right - a.left - 1, a.bottom - a.top - 1);
    // subplot title: italic d
    ctx.fillStyle = '#222';
    ctx.textBaseline = 'middle';
    ctx.textAlign = 'left';
    const rest = ' = 500kb';
    ctx.font = 'italic 9.5px ' + FONT;
    const wd = ctx.measureText('d').width;
    ctx.font = '9.5px ' + FONT;
    const wr = ctx.measureText(rest).width;
    const cx = (a.left + a.right) / 2 - (wd + wr) / 2;
    ctx.font = 'italic 9.5px ' + FONT;
    ctx.fillText('d', cx, a.top - 6);
    ctx.font = '9.5px ' + FONT;
    ctx.fillText(rest, cx + wd, a.top - 6);
    // right axis label, reading bottom to top
    ctx.translate(a.right + o.rightTitle, (a.top + a.bottom) / 2);
    ctx.rotate(-Math.PI / 2);
    ctx.textAlign = 'center';
    ctx.font = '8px ' + FONT;
    ctx.fillText('No. markers per 1kb', 0, 0);
    ctx.restore();
  }
};

function fixedTicks(values) {
  return scale => { scale.ticks = values.map(v => ({ value: v })); };
}

function tickStyle(fmt) {
  return { font: { family: FONT, size: 8 }, color: '#222', padding: 2, autoSkip: false,
           maxRotation: 0, callback: v => fmt(v) };
}

const tickMarks = { display: true, drawOnChartArea: false, drawTicks: true, tickLength: 3, color: '#222' };

function makePanel(id, g, d) {
  const cv = document.getElementById(id);
  const w = g.R - g.L + g.leftW + g.rightW;
  const h = g.B - g.T + PAD_TOP + X_AXIS_H;
  cv.width = w; cv.height = h;
  cv.style.left = (g.L - g.leftW) + 'px';
  cv.style.top = (g.T - PAD_TOP) + 'px';
  cv.style.width = w + 'px';
  cv.style.height = h + 'px';

  // datasets drawn in reverse list order: density ends on top, bad lines at the bottom
  const datasets = [{
    data: d.density, yAxisID: 'y2', borderColor: '#000', borderWidth: 1, borderDash: [4, 2]
  }];
  [2, 1, 0].forEach(i => datasets.push({
    label: ANCESTORS[i], data: d.good[i], yAxisID: 'y', borderColor: GOOD_COLORS[i], borderWidth: 1.3
  }));
  [2, 1, 0].forEach(i => datasets.push({
    label: ANCESTORS[i], data: d.bad[i], yAxisID: 'y', borderColor: BAD_COLORS[i], borderWidth: 1.2, borderDash: [1.2, 1.5]
  }));
  datasets.forEach(ds => Object.assign(ds, { pointRadius: 0, tension: 0, fill: false }));

  new Chart(cv, {
    type: 'line',
    data: { datasets },
    plugins: [framePlugin],
    options: {
      responsive: false, animation: false, devicePixelRatio: 1,
      layout: { padding: { top: PAD_TOP, left: 0, right: 0, bottom: 0 }, autoPadding: false },
      plugins: {
        legend: { display: false }, tooltip: { enabled: false },
        frame: { legendX: g.legendX, legendY: g.legendY, rightTitle: g.rightTitle }
      },
      scales: {
        x: {
          type: 'linear', min: g.xmin, max: g.xmax, afterBuildTicks: fixedTicks(d.xTicks),
          ticks: tickStyle(v => v.toFixed(1)), grid: tickMarks, border: { display: false },
          title: { display: true, text: 'Position (Mb)', font: { family: FONT, size: 8 }, color: '#222', padding: 0 },
          afterFit: s => { s.height = X_AXIS_H; }
        },
        y: {
          position: 'left', min: g.ymin, max: g.ymax, afterBuildTicks: fixedTicks(d.yTicks),
          ticks: tickStyle(v => v.toFixed(2)), grid: tickMarks, border: { display: false },
          title: { display: true, text: 'False negative rate', font: { family: FONT, size: 8 }, color: '#222', padding: 0 },
          afterFit: s => { s.width = g.leftW; }
        },
        y2: {
          position: 'right', min: g.dmin, max: g.dmax, afterBuildTicks: fixedTicks(d.dTicks),
          ticks: tickStyle(d.dFmt), grid: tickMarks, border: { display: false },
          afterFit: s => { s.width = g.rightW; }
        }
      }
    }
  });
}

const oneDec = v => v.toFixed(1);
const noDec = v => v.toFixed(0);

makePanel('pa',
  { L: 42, T: 70, R: 568, B: 220, leftW: 35, rightW: 30, rightTitle: 24,
    xmin: 0.052, xmax: 3.047, ymin: -0.0045, ymax: 0.1029, dmin: -0.15, dmax: 3.5, legendX: 465, legendY: 22.7 },
  { bad: [A_BAD_0, A_BAD_1, A_BAD_2], good: [A_GOOD_0, A_GOOD_1, A_GOOD_2], density: A_DENSITY,
    xTicks: A_X_TICKS, yTicks: A_Y_TICKS, dTicks: A_D_TICKS, dFmt: oneDec });

makePanel('pb',
  { L: 651, T: 70, R: 1179, B: 220, leftW: 34, rightW: 30, rightTitle: 24,
    xmin: -0.06, xmax: 4.27, ymin: -0.0032, ymax: 0.0729, dmin: -0.104, dmax: 2.383, legendX: 7.3, legendY: 23 },
  { bad: [B_BAD_0, B_BAD_1, B_BAD_2], good: [B_GOOD_0, B_GOOD_1, B_GOOD_2], density: B_DENSITY,
    xTicks: B_X_TICKS, yTicks: B_Y_TICKS, dTicks: B_D_TICKS, dFmt: oneDec });

makePanel('pc',
  { L: 42, T: 321, R: 577, B: 471, leftW: 35, rightW: 22, rightTitle: 16.5,
    xmin: -0.147, xmax: 3.062, ymin: -0.0047, ymax: 0.0926, dmin: -0.258, dmax: 5.69, legendX: 473.7, legendY: 21 },
  { bad: [C_BAD_0, C_BAD_1, C_BAD_2], good: [C_GOOD_0, C_GOOD_1, C_GOOD_2], density: C_DENSITY,
    xTicks: C_X_TICKS, yTicks: C_Y_TICKS, dTicks: C_D_TICKS, dFmt: noDec });

makePanel('pd',
  { L: 652, T: 320, R: 1187, B: 471, leftW: 34, rightW: 22, rightTitle: 16.5,
    xmin: -0.083, xmax: 4.346, ymin: -0.0039, ymax: 0.0766, dmin: -0.204, dmax: 4.53, legendX: 7.3, legendY: 22 },
  { bad: [D_BAD_0, D_BAD_1, D_BAD_2], good: [D_GOOD_0, D_GOOD_1, D_GOOD_2], density: D_DENSITY,
    xTicks: D_X_TICKS, yTicks: D_Y_TICKS, dTicks: D_D_TICKS, dFmt: noDec });
</script>
</body>
</html>
